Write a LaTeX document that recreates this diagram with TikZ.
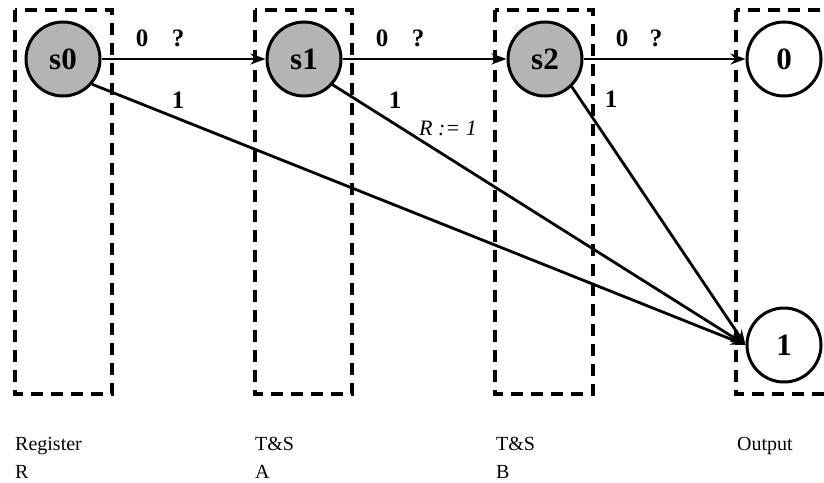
\documentclass[tikz,border=0pt]{standalone}
\usepackage{fontspec}
\setmainfont{Liberation Serif}
\usetikzlibrary{arrows.meta}
\begin{document}
\begin{tikzpicture}[x=1pt,y=-1pt,
  box/.style={draw, line width=3.2pt, dash pattern=on 12pt off 8pt},
  state/.style={circle, draw, line width=3pt, minimum size=74pt, inner sep=0pt, font=\fontsize{31}{32}\selectfont\bfseries},
  filled/.style={fill={rgb,255:red,180;green,180;blue,180}},
  arr/.style={line width=2.8pt, -{Stealth[length=15pt,width=11pt,inset=5pt]}},
  lbl/.style={font=\fontsize{25}{26}\selectfont\bfseries, inner sep=0pt},
  captext/.style={font=\fontsize{20}{22}\selectfont, inner sep=0pt, anchor=base west}]
\useasboundingbox (0,0) rectangle (824,482);
\clip (0,0) rectangle (824,482);
\fill[white] (0,0) rectangle (824,482);
% boxes
\draw[box] (15,10) rectangle (112,394);
\draw[box] (255,10) rectangle (352,394);
\draw[box] (495,10) rectangle (593,394);
\draw[box] (736,10) rectangle (834,394);
% states
\node[state, filled] (s0) at (63,59) {s0};
\node[state, filled] (s1) at (304,59) {s1};
\node[state, filled] (s2) at (545,59) {s2};
\node[state] (n0) at (784,59) {0};
\node[state] (n1) at (784,345) {1};
% connectors
\draw[arr] (s0) -- (s1);
\draw[arr] (s1) -- (s2);
\draw[arr] (s2) -- (n0);
\draw[arr] (s0.-41) -- (n1.west);
\draw[arr] (s1.-42) -- (n1.west);
\draw[arr] (s2.-46) -- (n1.west);
% labels
\node[lbl] (l0a) at (142,38) {0};
\node[lbl] (l0b) at (178,38) {?};
\node[lbl] (l1a) at (382,38) {0};
\node[lbl] (l1b) at (418,38) {?};
\node[lbl] (l2a) at (622,38) {0};
\node[lbl] (l2b) at (656,38) {?};
\node[lbl] (o0) at (178,100) {1};
\node[lbl] (o1) at (395,100) {1};
\node[lbl] (o2) at (611,99) {1};
\node[font=\fontsize{22}{23}\selectfont\itshape, inner sep=0pt] (rl) at (448,128) {R := 1};
% captions
\node[captext] (c1) at (15,450) {Register};
\node[captext] (c1b) at (15,478) {R};
\node[captext] (c2) at (255,450) {T\&S};
\node[captext] (c2b) at (255,478) {A};
\node[captext] (c3) at (496,450) {T\&S};
\node[captext] (c3b) at (496,478) {B};
\node[captext] (c4) at (737,450) {Output};
\end{tikzpicture}
\end{document}
